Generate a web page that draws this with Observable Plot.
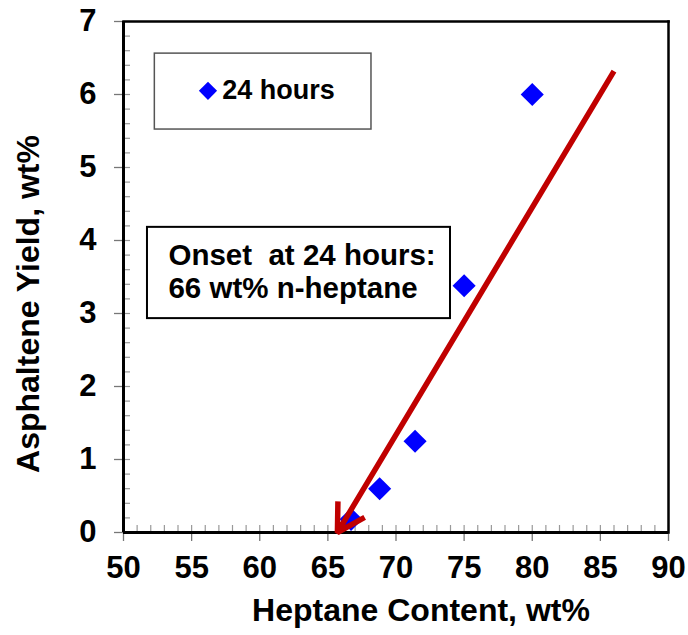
<!DOCTYPE html>
<html><head><meta charset="utf-8">
<script src="https://cdn.jsdelivr.net/npm/d3@7"></script>
<script src="https://cdn.jsdelivr.net/npm/@observablehq/plot@0.6"></script>
<style>
body{margin:0;background:#fff;}
svg text{white-space:pre;}
</style></head><body><div id="chart"></div>
<script>
// ---- data ----
const heptane = [66.7, 68.8, 71.4, 75.0, 80.0];
const yieldWt = [0.18, 0.60, 1.25, 3.38, 6.0];
const xTicks = [50, 55, 60, 65, 70, 75, 80, 85, 90];
const yTicks = [0, 1, 2, 3, 4, 5, 6, 7];
const xMinor = d3.range(50, 91, 1);
const yMinor = d3.range(0, 36).map(i => i / 5);
const legendLabel = "24 hours";
const legendBox = [{x1: 52.3, x2: 68.2, y1: 5.52, y2: 6.56}];
const legendMarker = [{x: 56.2, y: 6.05}];
const legendTextPos = [{x: 57.25, y: 6.05}];
const onsetLines = ["Onset  at 24 hours:", "66 wt% n-heptane"];
const onsetLineY = [3.80, 3.34];
const onsetTextX = 53.3;
const onsetBox = [{x1: 51.76, x2: 74.0, y1: 2.93, y2: 4.18}];
const trendArrow = [{x1: 86.0, y1: 6.32, x2: 65.7, y2: 0}];
const xLabel = "Heptane Content, wt%";
const yLabel = "Asphaltene Yield, wt%";

const points = heptane.map((x, i) => ({x, y: yieldWt[i]}));
const onsetText = onsetLines.map((t, i) => ({t, x: onsetTextX, y: onsetLineY[i]}));

// ---- layout ----
const W = 688, H = 635;
const mL = 123, mR = 20, mT = 21, mB = 103;
const plotW = W - mL - mR, plotH = H - mT - mB;
const font = "'Liberation Sans', Arial, Helvetica, sans-serif";

const chart = Plot.plot({
  width: W, height: H,
  marginLeft: mL, marginRight: mR, marginTop: mT, marginBottom: mB,
  style: {fontFamily: font, fontWeight: "bold", background: "#fff", color: "#000"},
  x: {domain: [50, 90]},
  y: {domain: [0, 7]},
  marks: [
    Plot.tickX(xMinor, {x: d => d, insetTop: plotH - 7, stroke: "#999", strokeWidth: 1.2}),
    Plot.tickY(yMinor, {y: d => d, insetRight: plotW - 7, stroke: "#999", strokeWidth: 1.2}),
    Plot.axisX(xTicks, {tickSize: 9, tickPadding: 14, fontSize: 31, stroke: "#777", strokeWidth: 1.3, fill: "#000", tickFormat: d3.format("d"), label: null}),
    Plot.axisY(yTicks, {tickSize: 9, tickPadding: 18, fontSize: 31, stroke: "#777", strokeWidth: 1.3, fill: "#000", tickFormat: d3.format("d"), label: null}),
    Plot.frame({anchor: "top", stroke: "#000", strokeWidth: 2.5}),
    Plot.frame({anchor: "right", stroke: "#000", strokeWidth: 2.5}),
    Plot.ruleY([0], {stroke: "#000", strokeWidth: 3}),
    Plot.ruleX([50], {stroke: "#000", strokeWidth: 3}),
    Plot.rect(legendBox, {x1: "x1", x2: "x2", y1: "y1", y2: "y2", fill: "#fff", stroke: "#555", strokeWidth: 1.5}),
    Plot.dot(legendMarker, {x: "x", y: "y", symbol: "diamond2", r: 8.2, fill: "#0000ff"}),
    Plot.text(legendTextPos, {x: "x", y: "y", text: () => legendLabel, textAnchor: "start", fontSize: 27, fontWeight: "bold", fill: "#000"}),
    Plot.rect(onsetBox, {x1: "x1", x2: "x2", y1: "y1", y2: "y2", fill: "#fff"}),
    Plot.dot(points, {x: "x", y: "y", symbol: "diamond2", r: 10.4, fill: "#0000ff"}),
    Plot.rect(onsetBox, {x1: "x1", x2: "x2", y1: "y1", y2: "y2", fill: "none", stroke: "#000", strokeWidth: 2}),
    Plot.text(onsetText, {x: "x", y: "y", text: "t", textAnchor: "start", fontSize: 29.5, fontWeight: "bold", fill: "#000"}),
    Plot.arrow(trendArrow, {x1: "x1", y1: "y1", x2: "x2", y2: "y2", stroke: "#c00000", strokeWidth: 5.5, headLength: 8.5, strokeLinecap: "butt"}),
    Plot.text([xLabel], {frameAnchor: "bottom", dx: 25, dy: 88, fontSize: 32, fontWeight: "bold", fill: "#000"}),
    Plot.text([yLabel], {frameAnchor: "left", textAnchor: "middle", rotate: -90, dx: -95, dy: 27, fontSize: 32, fontWeight: "bold", fill: "#000"})
  ]
});
document.getElementById("chart").appendChild(chart);
</script>
</body></html>
